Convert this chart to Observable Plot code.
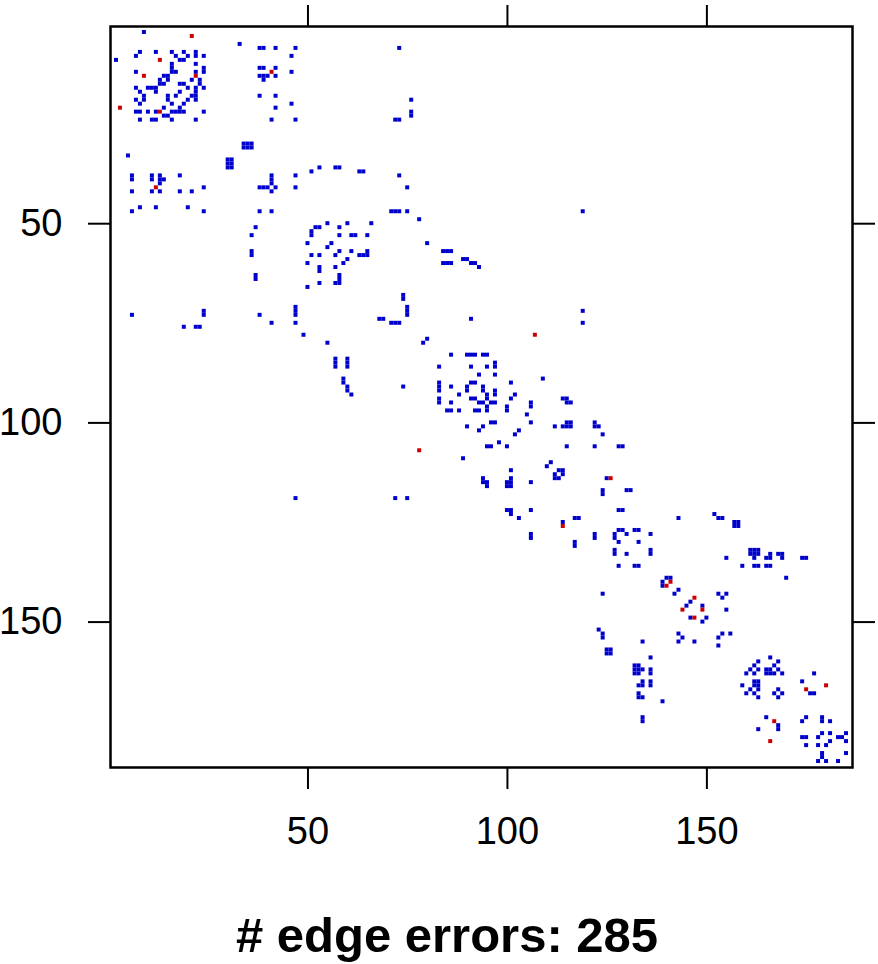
<!DOCTYPE html>
<html>
<head>
<meta charset="utf-8">
<script src="https://cdn.jsdelivr.net/npm/d3@7"></script>
<script src="https://cdn.jsdelivr.net/npm/@observablehq/plot@0.6"></script>
<style>
  html, body { margin: 0; padding: 0; background: white; }
  #wrap { position: relative; width: 878px; height: 964px; overflow: hidden; }
  #title { position: absolute; left: 0; top: 911px; width: 878px; padding-left: 16px; box-sizing: border-box;
           text-align: center; font-family: 'Liberation Sans', Arial, sans-serif; font-weight: bold;
           font-size: 49px; line-height: 49px; color: black; }
</style>
</head>
<body>
<div id="wrap"><div id="chart"></div><div id="title"></div></div>
<script>
// Matrix size and axis ticks
const matrixSize = 186;
const tickValues = [50, 100, 150];
const titleText = "# edge errors: 285";

// Symmetric matrix: entries read from the upper triangle [row, col]
const blueEdges = [
  [2,9],[5,33],
  [6,38],[6,39],[6,42],[6,47],[6,73],
  [7,8],[7,12],[7,16],[7,19],[7,22],
  [8,17],[8,20],[8,22],[8,24],[8,46],
  [9,18],[9,19],
  [10,16],[10,22],
  [11,16],[11,24],[11,38],[11,39],[11,42],
  [12,16],[12,17],[12,22],[12,24],[12,46],
  [13,14],[13,15],[13,38],[13,39],[13,40],[13,42],
  [14,15],[14,21],[14,23],[14,39],
  [15,18],[15,19],[15,23],
  [16,20],[16,22],[16,24],
  [17,18],[17,22],
  [18,21],[18,22],[18,38],[18,42],
  [19,20],[19,22],[19,76],
  [20,46],[21,42],
  [22,24],[22,76],[23,76],
  [24,41],[24,47],[24,72],[24,73],
  [30,34],[30,35],[30,36],[31,34],[31,35],[31,36],
  [36,53],[36,57],[36,58],
  [37,51],[37,63],[37,64],
  [38,41],[38,47],[38,73],
  [39,41],[40,41],
  [41,42],[41,47],[41,75],
  [47,71],[47,72],[47,73],[47,75],[47,119],
  [49,78],
  [50,55],[50,60],[50,66],
  [51,52],[51,53],[51,58],
  [53,58],[53,61],[53,62],[53,65],
  [55,56],[55,80],
  [57,58],[57,61],[57,65],[57,84],[57,85],[57,86],
  [58,63],[58,64],[58,65],
  [59,60],[59,89],[59,90],
  [60,84],[60,85],[60,86],[60,91],[60,92],
  [61,93],
  [68,74],[69,74],
  [71,75],[72,75],[72,119],[73,75],
  [74,91],[75,119],
  [79,80],
  [83,86],[83,90],[83,91],[83,92],[83,94],[83,95],
  [85,97],
  [86,91],[86,95],[86,97],
  [88,93],[88,97],
  [89,109],
  [90,91],[90,92],[90,101],
  [91,94],
  [92,94],[92,97],
  [93,95],[93,97],[93,102],
  [94,95],[94,101],[94,114],[94,115],
  [95,96],[95,97],[95,106],[95,115],[95,116],
  [96,100],[96,106],
  [97,100],[98,105],
  [100,106],[100,115],[100,116],[100,122],
  [101,112],[101,114],[101,115],[101,116],[101,122],[101,123],
  [102,103],[103,124],
  [106,115],[106,122],[106,128],[106,129],
  [110,111],
  [112,113],[112,114],[113,114],
  [114,125],
  [117,124],[117,130],[117,131],[118,124],
  [122,128],[122,129],
  [123,152],
  [124,143],[124,153],[124,154],
  [125,157],[125,158],[126,157],[126,158],
  [127,128],[127,129],[127,132],[127,133],
  [128,130],[128,136],
  [130,133],
  [132,136],[132,161],[132,162],[132,163],
  [133,136],[133,161],[133,162],[133,163],[133,166],[133,168],[133,169],
  [134,155],[134,162],[134,165],[134,166],[134,169],[134,174],[134,175],
  [136,159],[136,162],[136,163],[136,165],[136,166],
  [139,140],[139,141],[139,170],
  [142,143],
  [143,153],[143,155],
  [144,154],[145,146],[146,149],[147,155],[149,150],
  [153,154],[153,156],
  [159,166],
  [160,163],[160,168],
  [161,162],[161,167],
  [162,163],[162,165],[162,166],[162,168],
  [163,165],[163,166],[163,167],[163,169],[163,177],
  [165,174],
  [167,168],
  [168,169],[168,176],[168,177],
  [174,175],[174,179],
  [175,179],[175,181],
  [178,179],[178,181],[178,185],
  [179,183],[179,184],
  [180,181],[180,185],
  [183,185]
];

const redEdges = [
  [3,21],[9,13],[12,41],[13,22],[78,107],[114,126],
  [140,141],[144,147],[147,149],[166,180],[167,175]
];

function mirrorCells(edges) {
  const out = [];
  for (const [r, c] of edges) {
    out.push({row: r, col: c});
    out.push({row: c, col: r});
  }
  return out;
}

const blueCells = mirrorCells(blueEdges);
const redCells = mirrorCells(redEdges);

const cellOpts = {
  x1: d => d.col - 0.5, x2: d => d.col + 0.5,
  y1: d => d.row - 0.5, y2: d => d.row + 0.5
};

const chart = Plot.plot({
  width: 878,
  height: 870,
  marginLeft: 110,
  marginRight: 26,
  marginTop: 26,
  marginBottom: 103,
  style: {fontFamily: "'Liberation Sans', Arial, sans-serif", fontSize: "38px", color: "black", background: "white"},
  x: {domain: [0.5, matrixSize + 0.5], label: null},
  y: {domain: [0.5, matrixSize + 0.5], reverse: true, label: null},
  marks: [
    Plot.rect(blueCells, {...cellOpts, fill: "#0000CC"}),
    Plot.rect(redCells, {...cellOpts, fill: "#CC0000"}),
    Plot.frame({strokeWidth: 2.5}),
    Plot.axisX(tickValues, {anchor: "bottom", tickSize: 22, tickPadding: 28, strokeWidth: 2, fontSize: 38, label: null}),
    Plot.axisX(tickValues, {anchor: "top", tickSize: 22, tickFormat: () => "", strokeWidth: 2, label: null}),
    Plot.axisY(tickValues, {anchor: "left", tickSize: 22, tickPadding: 26, strokeWidth: 2, fontSize: 38, label: null}),
    Plot.axisY(tickValues, {anchor: "right", tickSize: 22, tickFormat: () => "", strokeWidth: 2, label: null})
  ]
});
document.getElementById("chart").appendChild(chart);
document.getElementById("title").textContent = titleText;
</script>
</body>
</html>
